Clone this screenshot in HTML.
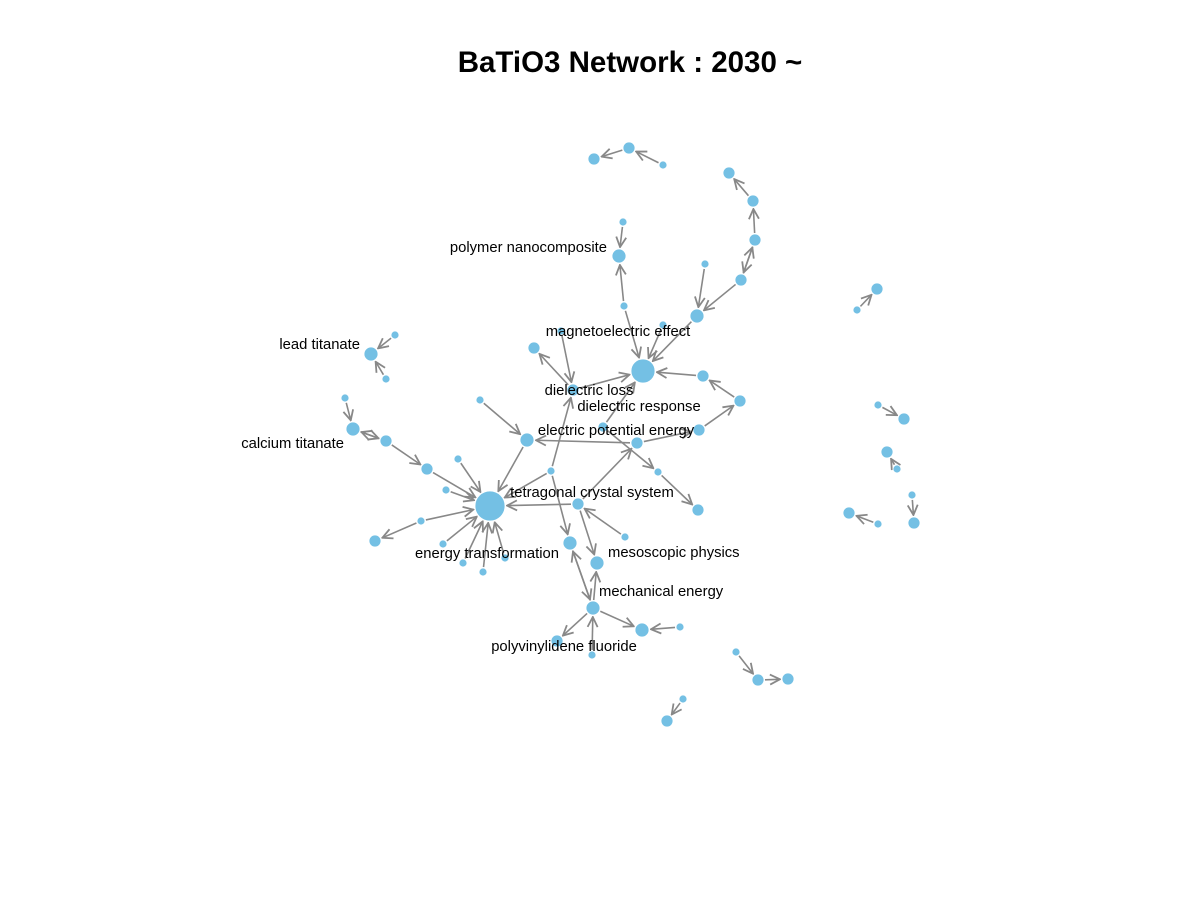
<!DOCTYPE html>
<html><head><meta charset="utf-8"><style>
html,body{margin:0;padding:0;background:#fff;}
svg{display:block;font-family:"Liberation Sans",Arial,sans-serif;}
</style></head><body>
<svg id="chart" width="1200" height="900" viewBox="0 0 1200 900">
<defs><marker id="arr" viewBox="0 0 12 12" refX="11" refY="6" markerWidth="12" markerHeight="12" markerUnits="userSpaceOnUse" orient="auto"><path d="M1,1 L11,6 L1,11" fill="none" stroke="#888" stroke-width="1.8"/></marker></defs>
<text x="630" y="72" text-anchor="middle" font-size="29.5" font-weight="bold">BaTiO3 Network : 2030 ~</text>
<g id="edges"></g><g id="nodes"></g><g id="labels"></g>
</svg>
<script>
const nodeIds=["A","B","C","D","E","F","G","H","I","J","K","L","M","H1","N","O","P","Q","R","DL","DR","EPE","S","T","U","H2","TCS","V","W","X","Y","MP","ME","Z","AA","PF","AB","LT","LT1","LT2","CT","CT1","CT2","CT3","L1","L2","L3","L4","L5","L6","L7","L8","R1","R2","R3","R4","R5","R6","R7","R8","R9","R10","B1","B2","B3","C1","C2"];
const nodeX=[629,594,663,729,753,755,741,705,697,623,619,624,663,643,703,740,699,534,561,573,603,637,480,527,551,490,578,658,698,625,570,597,593,642,680,557,592,371,395,386,353,345,386,427,458,446,421,375,443,463,483,505,877,857,878,904,887,897,912,914,849,878,736,758,788,683,667];
const nodeY=[148,159,165,173,201,240,280,264,316,222,256,306,325,371,376,401,430,348,331,390,427,443,400,440,471,506,504,472,510,537,543,563,608,630,627,641,655,354,335,379,429,398,441,469,459,490,521,541,544,563,572,558,289,310,405,419,452,469,495,523,513,524,652,680,679,699,721];
const nodeSize=[6,6,4,6,6,6,6,4,7,4,7,4,4,12,6,6,6,6,4,6,5,6,4,7,4,15,6,4,6,4,7,7,7,7,4,6,4,7,4,4,7,4,6,6,4,4,4,6,4,4,4,4,6,4,4,6,6,4,4,6,6,4,4,6,6,4,6];
const edgeFrom=["C","A","G","F","F","E","G","H","J","L","L","M","I","N","O","P","EPE","DR","DL","R","DL","U","U","U","DR","V","TCS","TCS","X","TCS","EPE","S","T","ME","ME","Y","ME","AA","ME","AB","CT3","CT2","CT","CT1","CT2","LT1","LT2","L1","L2","L3","L3","L5","L6","L7","L8","R2","R3","R6","R7","R10","B1","B2","C1"];
const edgeTo=["A","B","F","G","E","D","I","I","K","K","H1","H1","H1","H1","N","O","P","H1","H1","DL","Q","DL","H2","Y","V","W","EPE","H2","TCS","MP","T","T","H2","MP","Y","ME","Z","Z","PF","ME","H2","CT","CT2","CT","CT3","LT","LT","H2","H2","L4","H2","H2","H2","H2","H2","R1","R4","R5","R8","R9","B2","B3","C2"];
const labelNames=["polymer nanocomposite","magnetoelectric effect","lead titanate","dielectric loss","dielectric response","electric potential energy","calcium titanate","tetragonal crystal system","energy transformation","mesoscopic physics","mechanical energy","polyvinylidene fluoride"];
const labelNode=["K","R","LT","DL","DR","EPE","CT","TCS","H2","MP","ME","PF"];
const labelDx=[-12,57,-11,16,36,-21,-9,14,-3,11,6,7];
const labelDy=[-4,5,-5,5,-16,-8,19,-7,52,-6,-12,10];
const labelAnchor=["end","middle","end","middle","middle","middle","end","middle","middle","start","start","middle"];
const NS="http://www.w3.org/2000/svg";
const idx=id=>nodeIds.indexOf(id);
const eg=document.getElementById('edges'),ng=document.getElementById('nodes'),lg=document.getElementById('labels');
for(let k=0;k<edgeFrom.length;k++){
 const a=idx(edgeFrom[k]),b=idx(edgeTo[k]);
 const dx=nodeX[b]-nodeX[a],dy=nodeY[b]-nodeY[a],d=Math.hypot(dx,dy);
 const ra=nodeSize[a]+1,rb=nodeSize[b]+2;
 const l=document.createElementNS(NS,'line');
 l.setAttribute('x1',nodeX[a]+dx/d*ra);l.setAttribute('y1',nodeY[a]+dy/d*ra);
 l.setAttribute('x2',nodeX[b]-dx/d*rb);l.setAttribute('y2',nodeY[b]-dy/d*rb);
 l.setAttribute('stroke','#888');l.setAttribute('stroke-width','1.6');l.setAttribute('marker-end','url(#arr)');
 
 
 eg.appendChild(l);
}
for(let i=0;i<nodeIds.length;i++){
 const c=document.createElementNS(NS,'circle');
 c.setAttribute('cx',nodeX[i]);c.setAttribute('cy',nodeY[i]);c.setAttribute('r',nodeSize[i]);
 c.setAttribute('fill','#74C0E4');c.setAttribute('stroke','#fff');c.setAttribute('stroke-width','0.8');
 
 
 ng.appendChild(c);
}
for(let j=0;j<labelNames.length;j++){
 const i=idx(labelNode[j]);
 const t=document.createElementNS(NS,'text');
 t.setAttribute('x',nodeX[i]+labelDx[j]);t.setAttribute('y',nodeY[i]+labelDy[j]);
 t.setAttribute('text-anchor',labelAnchor[j]);t.setAttribute('font-size','14.8');
 t.textContent=labelNames[j];
 
 
 lg.appendChild(t);
}
</script>
</body></html>
